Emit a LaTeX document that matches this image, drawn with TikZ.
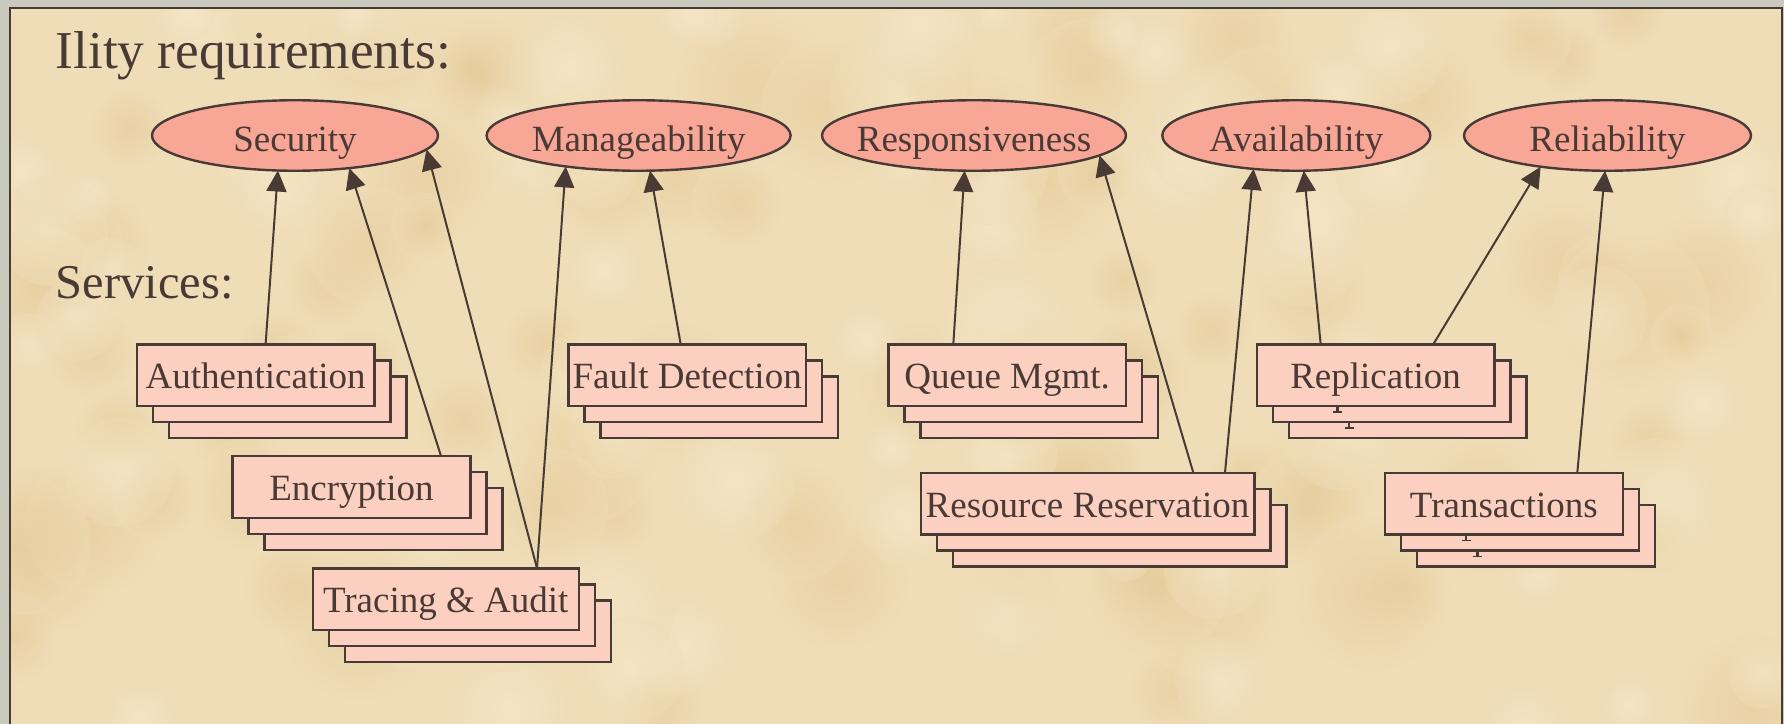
\documentclass[tikz,border=0pt]{standalone}
\usepackage{fontspec}
\setmainfont{Liberation Serif}
\usetikzlibrary{shapes.geometric,arrows.meta,calc,shadows}

\definecolor{ink}{HTML}{4A3A36}
\definecolor{parchment}{HTML}{EFDDB7}
\definecolor{tanspot}{HTML}{E2C48E}
\definecolor{creamspot}{HTML}{F8EDD2}
\definecolor{stone}{HTML}{C9C9BD}
\definecolor{ilityfill}{HTML}{F8A696}
\definecolor{servfill}{HTML}{FCD0C0}

\begin{document}
\begin{tikzpicture}[x=1bp,y=-1bp,
  heading/.style={anchor=base west, inner sep=0pt, text=ink,
    font=\fontsize{53.3bp}{60bp}\selectfont},
  subheading/.style={anchor=base west, inner sep=0pt, text=ink,
    font=\fontsize{48.5bp}{56bp}\selectfont},
  ility/.style={ellipse, draw=ink, line width=2.4bp, fill=ilityfill,
    inner sep=0pt, outer sep=0pt, minimum height=70.5bp, text=ink,
    font=\fontsize{37bp}{44bp}\selectfont, text height=32bp, text depth=0pt},
  service/.style={rectangle, draw=ink, line width=2.4bp, fill=servfill,
    inner sep=0pt, outer sep=0pt, minimum width=237.7bp, minimum height=61.7bp,
    text=ink, font=\fontsize{37bp}{44bp}\selectfont,
    text height=27.2bp, text depth=0pt, anchor=north west,
    double copy shadow={shadow xshift=16bp, shadow yshift=-16bp,
      draw=ink, fill=servfill, line width=2.4bp, opacity=1}},
  link/.style={draw=ink, line width=2bp, -{Triangle[length=21bp,width=20bp]}},
  stem/.style={draw=ink, line width=2.6bp},
  serif/.style={draw=ink, line width=1.6bp},
]
\useasboundingbox (0,0) rectangle (1784,724);
\clip (0,0) rectangle (1784,724);

% stone surround and softly mottled parchment panel
\fill[stone] (0,0) rectangle (1784,724);
\begin{scope}
  \clip (10,8) rectangle (1782,740);
  \fill[parchment] (10,8) rectangle (1782,740);
  \pgfmathsetseed{11}
  \foreach \i in {1,...,90}{
    \pgfmathsetmacro\px{10+1772*rnd}
    \pgfmathsetmacro\py{8+720*rnd}
    \pgfmathsetmacro\pr{30+50*rnd}
    \shade[inner color=tanspot, outer color=parchment, opacity=0.45]
      (\px,\py) circle[radius=\pr];
  }
  \foreach \i in {1,...,70}{
    \pgfmathsetmacro\px{10+1772*rnd}
    \pgfmathsetmacro\py{8+720*rnd}
    \pgfmathsetmacro\pr{25+45*rnd}
    \shade[inner color=creamspot, outer color=parchment, opacity=0.45]
      (\px,\py) circle[radius=\pr];
  }
\end{scope}
\draw[ink, line width=2.6bp] (10,740) -- (10,8) -- (1782,8) -- (1782,740);

% headings
\node[heading] (ilityhead) at (55.5,69) {Ility requirements:};
\node[subheading] (servhead) at (55.5,298.5) {Services:};

% quality attributes
\node[ility, minimum width=286bp] (sec)   at (295,135.5)    {\makebox[0pt]{Security}};
\node[ility, minimum width=304bp] (man)   at (638.6,135.5)  {\makebox[0pt]{Manageability}};
\node[ility, minimum width=304bp] (resp)  at (974,135.5)    {\makebox[0pt]{Responsiveness}};
\node[ility, minimum width=268bp] (avail) at (1296.3,135.5) {\makebox[0pt]{Availability}};
\node[ility, minimum width=287bp] (rel)   at (1607.5,135.5) {\makebox[0pt]{Reliability}};

% services (stacked)
\node[service] (auth)  at (136.8,344.3) {Authentication};
\node[service] (enc)   at (232.6,456)   {Encryption};
\node[service, minimum width=266bp] (trace) at (312.7,568.3) {Tracing \& Audit};
\node[service] (fault) at (568.3,344.3) {Fault Detection};
\node[service] (queue) at (888.3,344.3) {Queue Mgmt.};
\node[service, minimum width=333.7bp] (resv) at (920.7,472.7) {Resource Reservation};
\node[service] (repl)  at (1256.7,344.3) {Replication};
\node[service] (trans) at (1385,472.7)  {Transactions};

% descender traces on the rear copies
\foreach \n in {repl,trans}{
  \draw[stem]  ($(\n.south west)+(81,0.5)$) -- ($(\n.south west)+(81,6.5)$);
  \draw[serif] ($(\n.south west)+(76.5,6)$) -- ($(\n.south west)+(85.5,6)$);
  \draw[stem]  ($(\n.south west)+(92.3,16.5)$) -- ($(\n.south west)+(92.3,22.5)$);
  \draw[serif] ($(\n.south west)+(87.8,22)$) -- ($(\n.south west)+(96.8,22)$);
}

% service -> attribute links
\draw[link] ($(auth.north west)+(128.8,0)$)  -- (sec.-116.8);
\draw[link] ($(enc.north west)+(208.4,0)$)   -- (sec.-31.5);
\draw[link] ($(trace.north west)+(224.3,0)$) -- (sec.-6.5);
\draw[link] ($(trace.north west)+(224.3,0)$) -- (man.-157.2);
\draw[link] ($(fault.north west)+(112.4,0)$) -- (man.-72.5);
\draw[link] ($(queue.north west)+(65,0)$)    -- (resp.-105.5);
\draw[link] ($(resv.north west)+(272.6,0)$)  -- (resp.-9);
\draw[link] ($(resv.north west)+(304.3,0)$)  -- (avail.-142.6);
\draw[link] ($(repl.north west)+(64,0)$)     -- (avail.-78.8);
\draw[link] ($(repl.north west)+(176.6,0)$)  -- (rel.-155.9);
\draw[link] ($(trans.north west)+(192.3,0)$) -- (rel.-94.1);
\end{tikzpicture}
\end{document}
